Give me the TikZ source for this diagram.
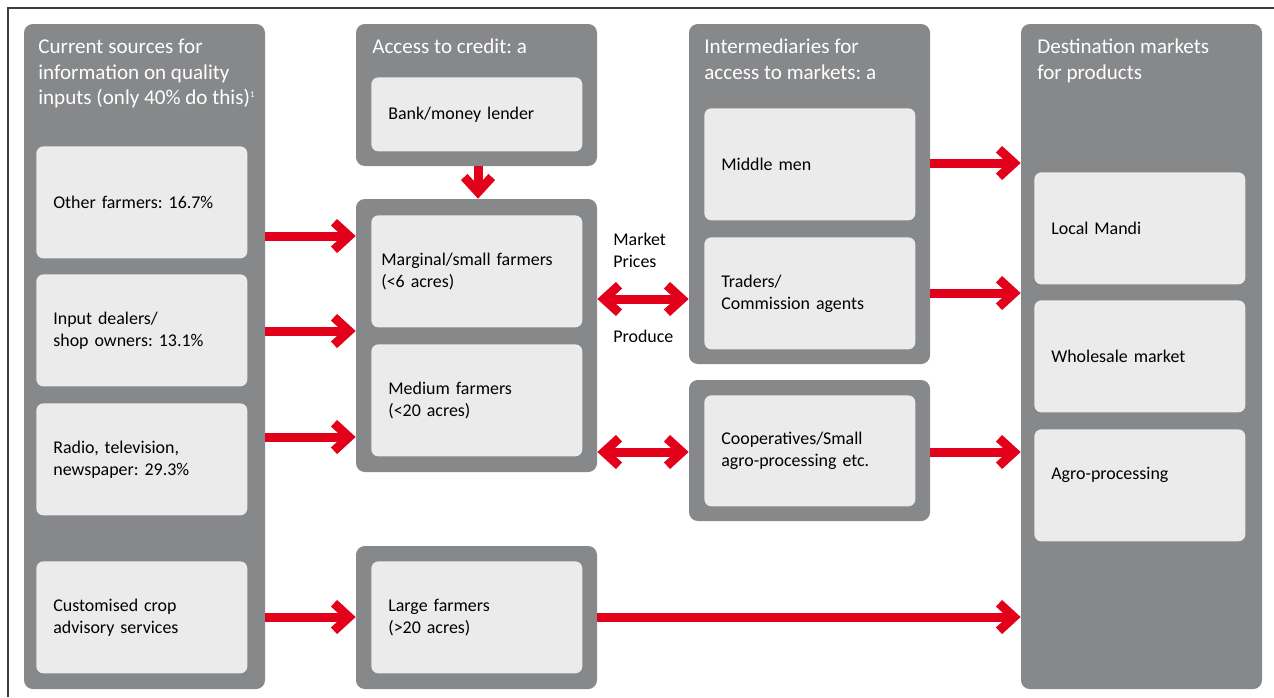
\documentclass[tikz,border=0pt]{standalone}
\usepackage{fontspec}
\setmainfont{Carlito}
\usepackage{tikz}
\usetikzlibrary{arrows.meta,positioning,fit}
\definecolor{vgray}{HTML}{87888A}
\definecolor{vlight}{HTML}{EBEBEB}
\definecolor{vred}{HTML}{E2001A}
\definecolor{vframe}{HTML}{3C3C3C}
\frenchspacing

\begin{document}
\begin{tikzpicture}[
x=0.02cm,y=-0.02cm,
Group/.style={fill=vgray,rounded corners=5pt,inner sep=0pt},
Cell/.style={fill=vlight,rounded corners=4pt,anchor=north west,
  minimum width=4.22cm,minimum height=2.24cm,text width=3.54cm,
  inner xsep=0.34cm,align=left,font=\fontsize{10.2}{12.5}\selectfont},
Head/.style={anchor=north west,inner sep=0pt,align=left,text=white,
  font=\fontsize{12}{14.5}\selectfont},
Lbl/.style={anchor=north west,inner sep=0pt,align=left,
  font=\fontsize{10.2}{12.5}\selectfont},
Link/.style={draw=vred,line width=0.18cm,-{Straight Barb[length=0.3cm,width=0.55cm]}},
Both/.style={draw=vred,line width=0.18cm,
  {Straight Barb[length=0.3cm,width=0.55cm]}-{Straight Barb[length=0.3cm,width=0.55cm]}}
]
\useasboundingbox (0,0) rectangle (1274,697);

% frame
\draw[vframe,line width=1pt] (8,697) -- (8,8) -- (1274,8);

% grey groups
\node[Group,fit={(24,24)(265,689)}] (src) {};
\node[Group,fit={(356,24)(597,166)}] (credit) {};
\node[Group,fit={(356,199)(597,472)}] (farms) {};
\node[Group,fit={(356,546)(597,689)}] (largegrp) {};
\node[Group,fit={(689,24)(930,364)}] (inter) {};
\node[Group,fit={(689,380)(930,521)}] (coopgrp) {};
\node[Group,fit={(1021,24)(1262,689)}] (dest) {};

% headers
\node[Head] (srchead) at (38,39) {Current sources for\\information on quality\\inputs (only 40\% do this)\textsuperscript{\tiny 1}};
\node[Head] (credhead) at (372,39) {Access to credit: a};
\node[Head] (interhead) at (704,39) {Intermediaries for\\access to markets: a};
\node[Head] (desthead) at (1037,39) {Destination markets\\for products};

% sources
\node[Cell] (other) at (36,146) {Other farmers: 16.7\%};
\node[Cell] (dealers) at (36,274) {Input dealers/\\shop owners: 13.1\%};
\node[Cell] (radio) at (36,403) {Radio, television,\\newspaper: 29.3\%};
\node[Cell] (advice) at (36,561) {Customised crop\\advisory services};

% credit and farmers
\node[Cell,minimum height=1.48cm] (bank) at (371,77) {Bank/money lender};
\node[Cell,inner xsep=0.2cm,text width=3.82cm] (marginal) at (371,215) {Marginal/small farmers\\(<6 acres)};
\node[Cell] (medium) at (371,344) {Medium farmers\\(<20 acres)};
\node[Cell] (large) at (371,561) {Large farmers\\(>20 acres)};

% intermediaries
\node[Cell] (middle) at (704,108) {Middle men};
\node[Cell] (traders) at (704,237) {Traders/\\Commission agents};
\node[Cell,minimum height=2.22cm] (coop) at (704,395) {Cooperatives/Small\\agro-processing etc.};

% markets
\node[Cell] (mandi) at (1034,172) {Local Mandi};
\node[Cell] (wholesale) at (1034,300) {Wholesale market};
\node[Cell,text depth=14pt] (agro) at (1034,429) {Agro-processing};

% arrow rows
\coordinate (r1) at (0,236);
\coordinate (r2) at (0,331);
\coordinate (r3) at (0,437);
\coordinate (r4) at (0,617);
\coordinate (m1) at (0,163);
\coordinate (m2) at (0,293);
\coordinate (m3) at (0,299);
\coordinate (m4) at (0,452);
\coordinate (c1) at (478,0);

\draw[Link] (src.east |- r1) -- (farms.west |- r1);
\draw[Link] (src.east |- r2) -- (farms.west |- r2);
\draw[Link] (src.east |- r3) -- (farms.west |- r3);
\draw[Link] (src.east |- r4) -- (largegrp.west |- r4);
\draw[Link] (credit.south -| c1) -- (farms.north -| c1);

\draw[Both] (farms.east |- m3) -- (inter.west |- m3);
\draw[Both] (farms.east |- m4) -- (coopgrp.west |- m4);
\node[Lbl] (prices) at (613,233) {Market\\Prices};
\node[Lbl] (produce) at (613,330) {Produce};

\draw[Link] (inter.east |- m1) -- (dest.west |- m1);
\draw[Link] (inter.east |- m2) -- (dest.west |- m2);
\draw[Link] (coopgrp.east |- m4) -- (dest.west |- m4);
\draw[Link] (largegrp.east |- r4) -- (dest.west |- r4);

\end{tikzpicture}
\end{document}
